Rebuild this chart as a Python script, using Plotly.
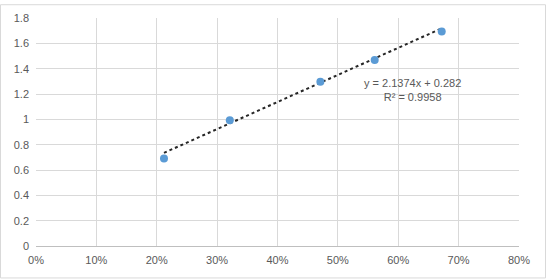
import plotly.graph_objects as go

x_vals = [0.212, 0.321, 0.471, 0.561, 0.672]
y_vals = [0.69, 0.993, 1.296, 1.469, 1.693]
slope = 2.1374
intercept = 0.282
r2 = 0.9958
x_ticks = [0, 0.1, 0.2, 0.3, 0.4, 0.5, 0.6, 0.7, 0.8]
x_tick_labels = ["0%", "10%", "20%", "30%", "40%", "50%", "60%", "70%", "80%"]
y_ticks = [0, 0.2, 0.4, 0.6, 0.8, 1.0, 1.2, 1.4, 1.6, 1.8]
y_tick_labels = ["0", "0.2", "0.4", "0.6", "0.8", "1", "1.2", "1.4", "1.6", "1.8"]

tx = [min(x_vals), max(x_vals)]
ty = [slope * v + intercept for v in tx]

fig = go.Figure()
fig.add_trace(go.Scatter(x=tx, y=ty, mode="lines",
                         line=dict(color="#262626", width=2, dash="dot"),
                         hoverinfo="skip", showlegend=False))
fig.add_trace(go.Scatter(x=x_vals, y=y_vals, mode="markers",
                         marker=dict(color="#5B9BD5", size=8),
                         showlegend=False))

W, H = 546, 279
L, R, T, B = 36, 27, 14, 33
pw = W - L - R
ph = H - T - B

fig.add_annotation(x=0.624, y=1.23, xref="x", yref="y",
                   text=f"y = {slope}x + {intercept}<br>R² = {r2}",
                   showarrow=False, align="center",
                   font=dict(family="Liberation Sans, Arial", size=11, color="#595959"))

fig.add_shape(type="rect", xref="paper", yref="paper",
              x0=(0.5 - L) / pw, x1=(W - 0.5 - L) / pw,
              y0=(H - B - (H - 0.5)) / ph, y1=(H - B - 0.5) / ph,
              line=dict(color="#D9D9D9", width=1), layer="below")

fig.update_layout(
    width=W, height=H,
    margin=dict(l=L, r=R, t=T, b=B, pad=0),
    paper_bgcolor="white", plot_bgcolor="white",
    font=dict(family="Liberation Sans, Arial", size=11, color="#595959"),
    xaxis=dict(range=[0, 0.8], tickvals=x_ticks, ticktext=x_tick_labels,
               showgrid=True, gridcolor="#D9D9D9", gridwidth=1,
               showline=True, linecolor="#BFBFBF", linewidth=1,
               zeroline=False, ticks="", ticklabelstandoff=4, fixedrange=True),
    yaxis=dict(range=[0, 1.8], tickvals=y_ticks, ticktext=y_tick_labels,
               showgrid=True, gridcolor="#D9D9D9", gridwidth=1,
               showline=False, zeroline=False, ticks="", ticklabelstandoff=6,
               fixedrange=True),
)

fig.write_html("out.html")
